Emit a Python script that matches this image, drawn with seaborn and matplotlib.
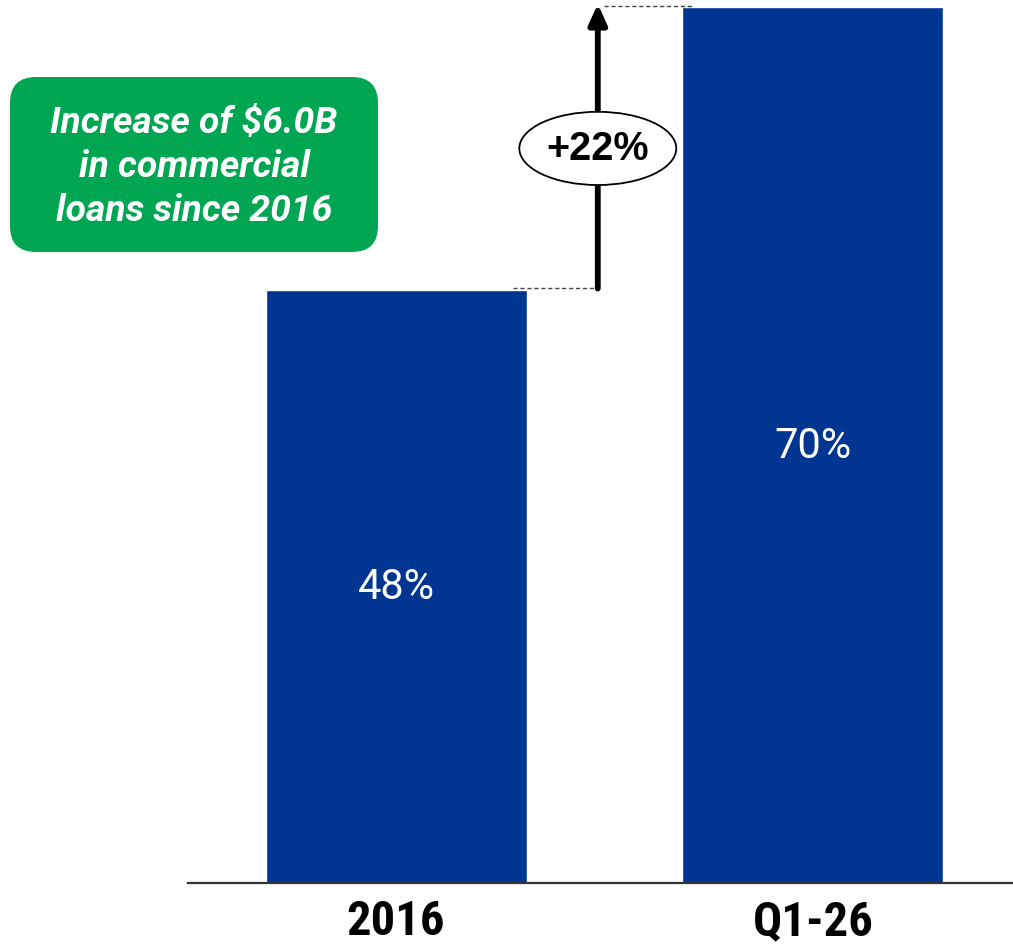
import matplotlib
matplotlib.use("Agg")
import matplotlib.pyplot as plt
import seaborn as sns
import pandas as pd
from matplotlib.patches import Ellipse, FancyBboxPatch
from matplotlib import font_manager as fm

# ---- data ----
categories = ["2016", "Q1-26"]
values = [47.4, 70.0]
value_labels = ["48%", "70%"]
change_label = "+22%"
callout_text = "Increase of $6.0B\nin commercial\nloans since 2016"

BAR_COLOR = "#003591"
GREEN = "#00A651"

sns.set_theme(style="white")
plt.rcParams["font.family"] = ["Roboto", "DejaVu Sans"]

# pick a condensed bold font for the category labels if available
names = {f.name for f in fm.fontManager.ttflist}
tick_family, tick_stretch, tick_size = None, "normal", 30
for cand in ["Roboto Condensed", "Liberation Sans Narrow", "Arial Narrow",
             "Open Sans Condensed", "Noto Sans Condensed"]:
    if cand in names:
        tick_family, tick_size = cand, 35
        break
if tick_family is None:
    if any(f.name == "DejaVu Sans" and "condensed" in str(f.stretch)
           for f in fm.fontManager.ttflist):
        tick_family, tick_stretch, tick_size = "DejaVu Sans", "condensed", 31
    else:
        tick_family, tick_size = "Liberation Sans", 31

W, H = 1013, 945
fig = plt.figure(figsize=(W / 100, H / 100), dpi=100)
ax = fig.add_axes([188 / W, (H - 884) / H, (W - 188) / W, 884 / H])

df = pd.DataFrame({"cat": categories, "val": values})
sns.barplot(data=df, x="cat", y="val", color=BAR_COLOR, saturation=1,
            width=0.626, ax=ax)

ax.set_xlim(-0.499, 1.48)
ax.set_ylim(0, 70.64)
ax.set_xlabel("")
ax.set_ylabel("")
ax.set_yticks([])
for s in ["top", "left", "right"]:
    ax.spines[s].set_visible(False)
ax.spines["bottom"].set_color("#333333")
ax.spines["bottom"].set_linewidth(1.6)
ax.tick_params(axis="x", length=0, pad=11)
for lab in ax.get_xticklabels():
    lab.set_fontfamily([tick_family, "DejaVu Sans"])
    lab.set_fontstretch(tick_stretch)
    lab.set_fontweight("bold")
    lab.set_fontsize(tick_size)
    lab.set_color("black")

# value labels inside bars
for i, (v, t) in enumerate(zip(values, value_labels)):
    ax.text(i, v / 2, t, ha="center", va="center", color="white",
            fontsize=30, fontfamily=["Roboto", "DejaVu Sans"])

# arrow + dashed connectors
half = 0.626 / 2
ax_x = 0.484
ax.plot([half - 0.032, ax_x], [values[0] + 0.15, values[0] + 0.15],
        ls=(0, (3, 2)), color="#444444", lw=1.0)
ax.plot([ax_x + 0.015, 1 - half + 0.025], [values[1] + 0.1, values[1] + 0.1],
        ls=(0, (3, 2)), color="#444444", lw=1.0)
ax.annotate("", xy=(ax_x, values[1] + 0.25), xytext=(ax_x, values[0] + 0.1),
            arrowprops=dict(arrowstyle="-|>,head_width=0.45,head_length=1.0",
                            color="black", lw=4.2, shrinkA=0, shrinkB=0))
mid = (values[0] + values[1]) / 2
ell = Ellipse((ax_x, mid), width=0.3765, height=5.85, facecolor="white",
              edgecolor="black", lw=1.3, zorder=5)
ax.add_patch(ell)
ax.text(ax_x, mid, change_label, ha="center", va="center", fontsize=28.5,
        fontweight="bold", fontfamily=["Liberation Sans", "DejaVu Sans"],
        color="black", zorder=6)

# green callout box
box = FancyBboxPatch((0.10, (H - 253) / 100), 3.68, 1.75,
                     boxstyle="round,pad=0,rounding_size=0.26",
                     transform=fig.dpi_scale_trans, facecolor=GREEN,
                     edgecolor="none")
fig.patches.append(box)
box.set_figure(fig)
fig.text(194 / W, 1 - 167 / H, callout_text, ha="center", va="center",
         color="white", fontsize=26.8, fontweight="bold", fontstyle="italic",
         linespacing=1.3, fontfamily=["Roboto", "DejaVu Sans"])

fig.savefig("out.png", dpi=100)
